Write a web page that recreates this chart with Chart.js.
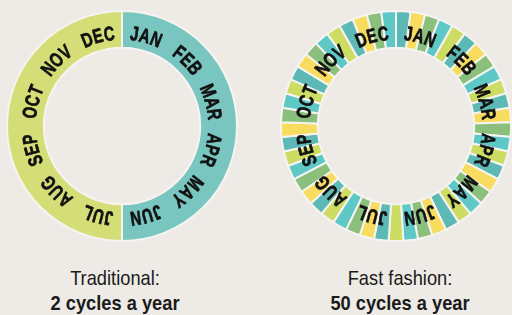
<!DOCTYPE html>
<html><head><meta charset="utf-8">
<script src="https://cdn.jsdelivr.net/npm/chart.js@4.4.1/dist/chart.umd.min.js"></script>
<style>
html,body{margin:0;padding:0;background:#eeebe6;}
body{width:512px;height:315px;position:relative;overflow:hidden;font-family:'Liberation Sans',Arial,sans-serif;}
.c{position:absolute;width:232px;height:232px;}
#left{left:6px;top:10px;}
#right{left:280px;top:10px;}
.lab{position:absolute;width:220px;text-align:center;color:#1a1a1a;font-size:21px;line-height:25px;transform:scaleX(0.87);transform-origin:50% 0;}
.lab b{font-weight:bold;}
</style></head>
<body>
<div class="c" id="left"><canvas id="c1" width="232" height="232"></canvas></div>
<div class="c" id="right"><canvas id="c2" width="232" height="232"></canvas></div>
<div class="lab" id="t1" style="left:5px;top:265px;">Traditional:<br><b>2 cycles a year</b></div>
<div class="lab" id="t2" style="left:290px;top:265px;">Fast fashion:<br><b>50 cycles a year</b></div>
<script>
// ---- data ----
const MONTHS = ['JAN','FEB','MAR','APR','MAY','JUN','JUL','AUG','SEP','OCT','NOV','DEC'];
const TRADITIONAL_CYCLES = ['Spring/Summer','Autumn/Winter'];
const TRADITIONAL_MONTHS = [6, 6];
const FAST_CYCLE_WEEKS = [1,1,1,1,1,1,1,1,1,1,1,1,1,1,1,1,1,1,1,1,1,1,1,1,1,1,1,1,1,1,1,1,1,1,1,1,1,1,1,1,1,1,1,1,1,1,1,1,1];

// ---- styles ----
const BG = '#eeebe6';
const GAP = '#f6f4f0';
const TRAD_COLORS = ['#79c6c1', '#d4dd76'];
const FAST_PALETTE = ['#5cb9b6', '#f8dc5f', '#8abf7c', '#5ec8c7', '#cddc63'];
const FONT = "bold 20px 'Liberation Sans',Arial,sans-serif";

const monthLabels = {
  id: 'monthLabels',
  afterDatasetsDraw(chart, args, opts) {
    const arc = chart.getDatasetMeta(0).data[0];
    const cx = arc.x, cy = arc.y;
    const r = (arc.innerRadius + arc.outerRadius) / 2 + opts.offset;
    const ctx = chart.ctx;
    ctx.save();
    ctx.font = opts.font;
    ctx.fillStyle = opts.color;
    ctx.strokeStyle = opts.color;
    ctx.lineWidth = opts.weight;
    ctx.lineJoin = 'round';
    ctx.textAlign = 'center';
    ctx.textBaseline = 'alphabetic';
    const capH = opts.capHeight;
    const sq = opts.squeeze;
    MONTHS.forEach((m, i) => {
      const mid = (i + 0.5) / MONTHS.length * 2 * Math.PI;
      const chars = m.split('');
      const widths = chars.map(c => ctx.measureText(c).width * sq);
      const total = widths.reduce((a, b) => a + b, 0) + opts.spacing * (chars.length - 1);
      let a = mid - total / r / 2;
      chars.forEach((c, k) => {
        const ca = a + widths[k] / 2 / r;
        ctx.save();
        ctx.translate(cx + r * Math.sin(ca), cy - r * Math.cos(ca));
        ctx.rotate(ca);
        ctx.scale(sq, 1);
        ctx.fillText(c, 0, capH / 2);
        ctx.strokeText(c, 0, capH / 2);
        ctx.restore();
        a += (widths[k] + opts.spacing) / r;
      });
    });
    ctx.restore();
  }
};

function makeChart(id, labels, values, colors) {
  return new Chart(document.getElementById(id), {
    type: 'doughnut',
    data: {
      labels: labels,
      datasets: [{
        data: values,
        backgroundColor: colors,
        borderColor: GAP,
        borderWidth: 2,
        hoverOffset: 0
      }]
    },
    options: {
      responsive: false,
      animation: false,
      cutout: '68%',
      rotation: 0,
      layout: { padding: 0 },
      events: [],
      plugins: {
        legend: { display: false },
        tooltip: { enabled: false },
        monthLabels: { font: FONT, color: '#111', offset: -3, spacing: 1.2, capHeight: 14.4, squeeze: 0.74, weight: 0.7 }
      }
    },
    plugins: [monthLabels]
  });
}

makeChart('c1', TRADITIONAL_CYCLES, TRADITIONAL_MONTHS, TRAD_COLORS);
makeChart('c2', FAST_CYCLE_WEEKS.map((v, i) => 'Cycle ' + (i + 1)), FAST_CYCLE_WEEKS,
  FAST_CYCLE_WEEKS.map((v, i) => FAST_PALETTE[i % FAST_PALETTE.length]));
</script>
</body></html>
